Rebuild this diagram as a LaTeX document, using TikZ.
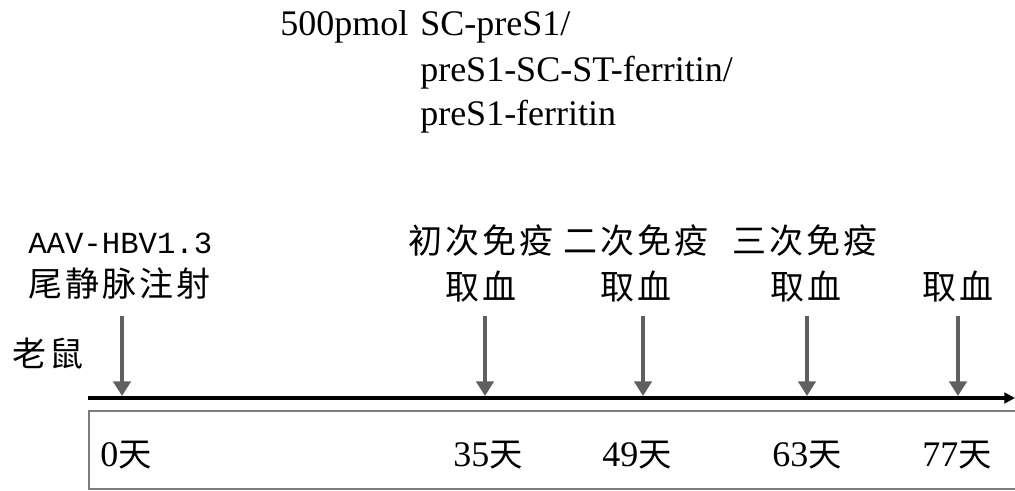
\documentclass[tikz,border=0pt]{standalone}
\usepackage{fontspec}
\usepackage{tikz}
\usetikzlibrary{arrows.meta}
\setmainfont{Liberation Serif}
\newfontfamily\cjk{Noto Sans CJK SC}[LetterSpace=9]
\newfontfamily\monofnt{Liberation Mono}
\definecolor{arrgray}{RGB}{95,95,95}
\definecolor{boxgray}{RGB}{125,125,125}
\newcommand\dayl[1]{#1{\cjk\fontsize{25}{30}\selectfont 天}}

\begin{document}
\begin{tikzpicture}[x=0.75pt,y=-0.75pt,
	zh/.style={font=\cjk\fontsize{25.5}{30}\selectfont, inner sep=0, anchor=west},
	en/.style={font=\fontsize{27}{32}\selectfont, inner sep=0, anchor=base west},
	downarr/.style={draw=arrgray, line width=2.6pt, -{Triangle[width=13pt,length=11pt]}},
	timeline/.style={line width=2.6pt, -{Triangle[width=8pt,length=8pt]}}
	]
	\useasboundingbox (0,0) rectangle (1015,490);
	% dose
	\node[en] (dose) at (280,35) {500pmol};
	\node[en] (prot1) at (420,35) {SC-preS1/};
	\node[en] (prot2) at (420,81) {preS1-SC-ST-ferritin/};
	\node[en] (prot3) at (420,125) {preS1-ferritin};
	% events
	\node[inner sep=0, anchor=west, font=\monofnt\fontsize{23}{28}\selectfont] (aav) at (28,243) {AAV-HBV1.3};
	\node[zh] (inj) at (28,284) {尾静脉注射};
	\node[zh] (mouse) at (12,353) {老鼠};
	\node[zh] (imm1) at (408,241) {初次免疫};
	\node[zh] (imm2) at (563,241) {二次免疫};
	\node[zh] (imm3) at (732,241) {三次免疫};
	\node[zh] (blood1) at (445,287) {取血};
	\node[zh] (blood2) at (600,287) {取血};
	\node[zh] (blood3) at (770,287) {取血};
	\node[zh] (blood4) at (922,287) {取血};
	% arrows
	\foreach \x [count=\i] in {122,485,643,807,958}{
		\coordinate (s\i) at (\x,316);
		\coordinate (e\i) at (\x,396);
		\draw[downarr] (s\i) -- (e\i);
	}
	% timeline
	\coordinate (tl0) at (88,398);
	\coordinate (tl1) at (1015,398);
	\draw[timeline] (tl0) -- (tl1);
	\node[draw=boxgray, line width=1.4pt, inner sep=0, anchor=north west,
		minimum width=705pt, minimum height=58.5pt] (daybox) at (88,410) {};
	% days
	\node[en, anchor=west] (day0) at (100,455) {\dayl{0}};
	\node[en, anchor=west] (day1) at (453,455) {\dayl{35}};
	\node[en, anchor=west] (day2) at (602,455) {\dayl{49}};
	\node[en, anchor=west] (day3) at (772,455) {\dayl{63}};
	\node[en, anchor=west] (day4) at (922,455) {\dayl{77}};
\end{tikzpicture}
\end{document}
